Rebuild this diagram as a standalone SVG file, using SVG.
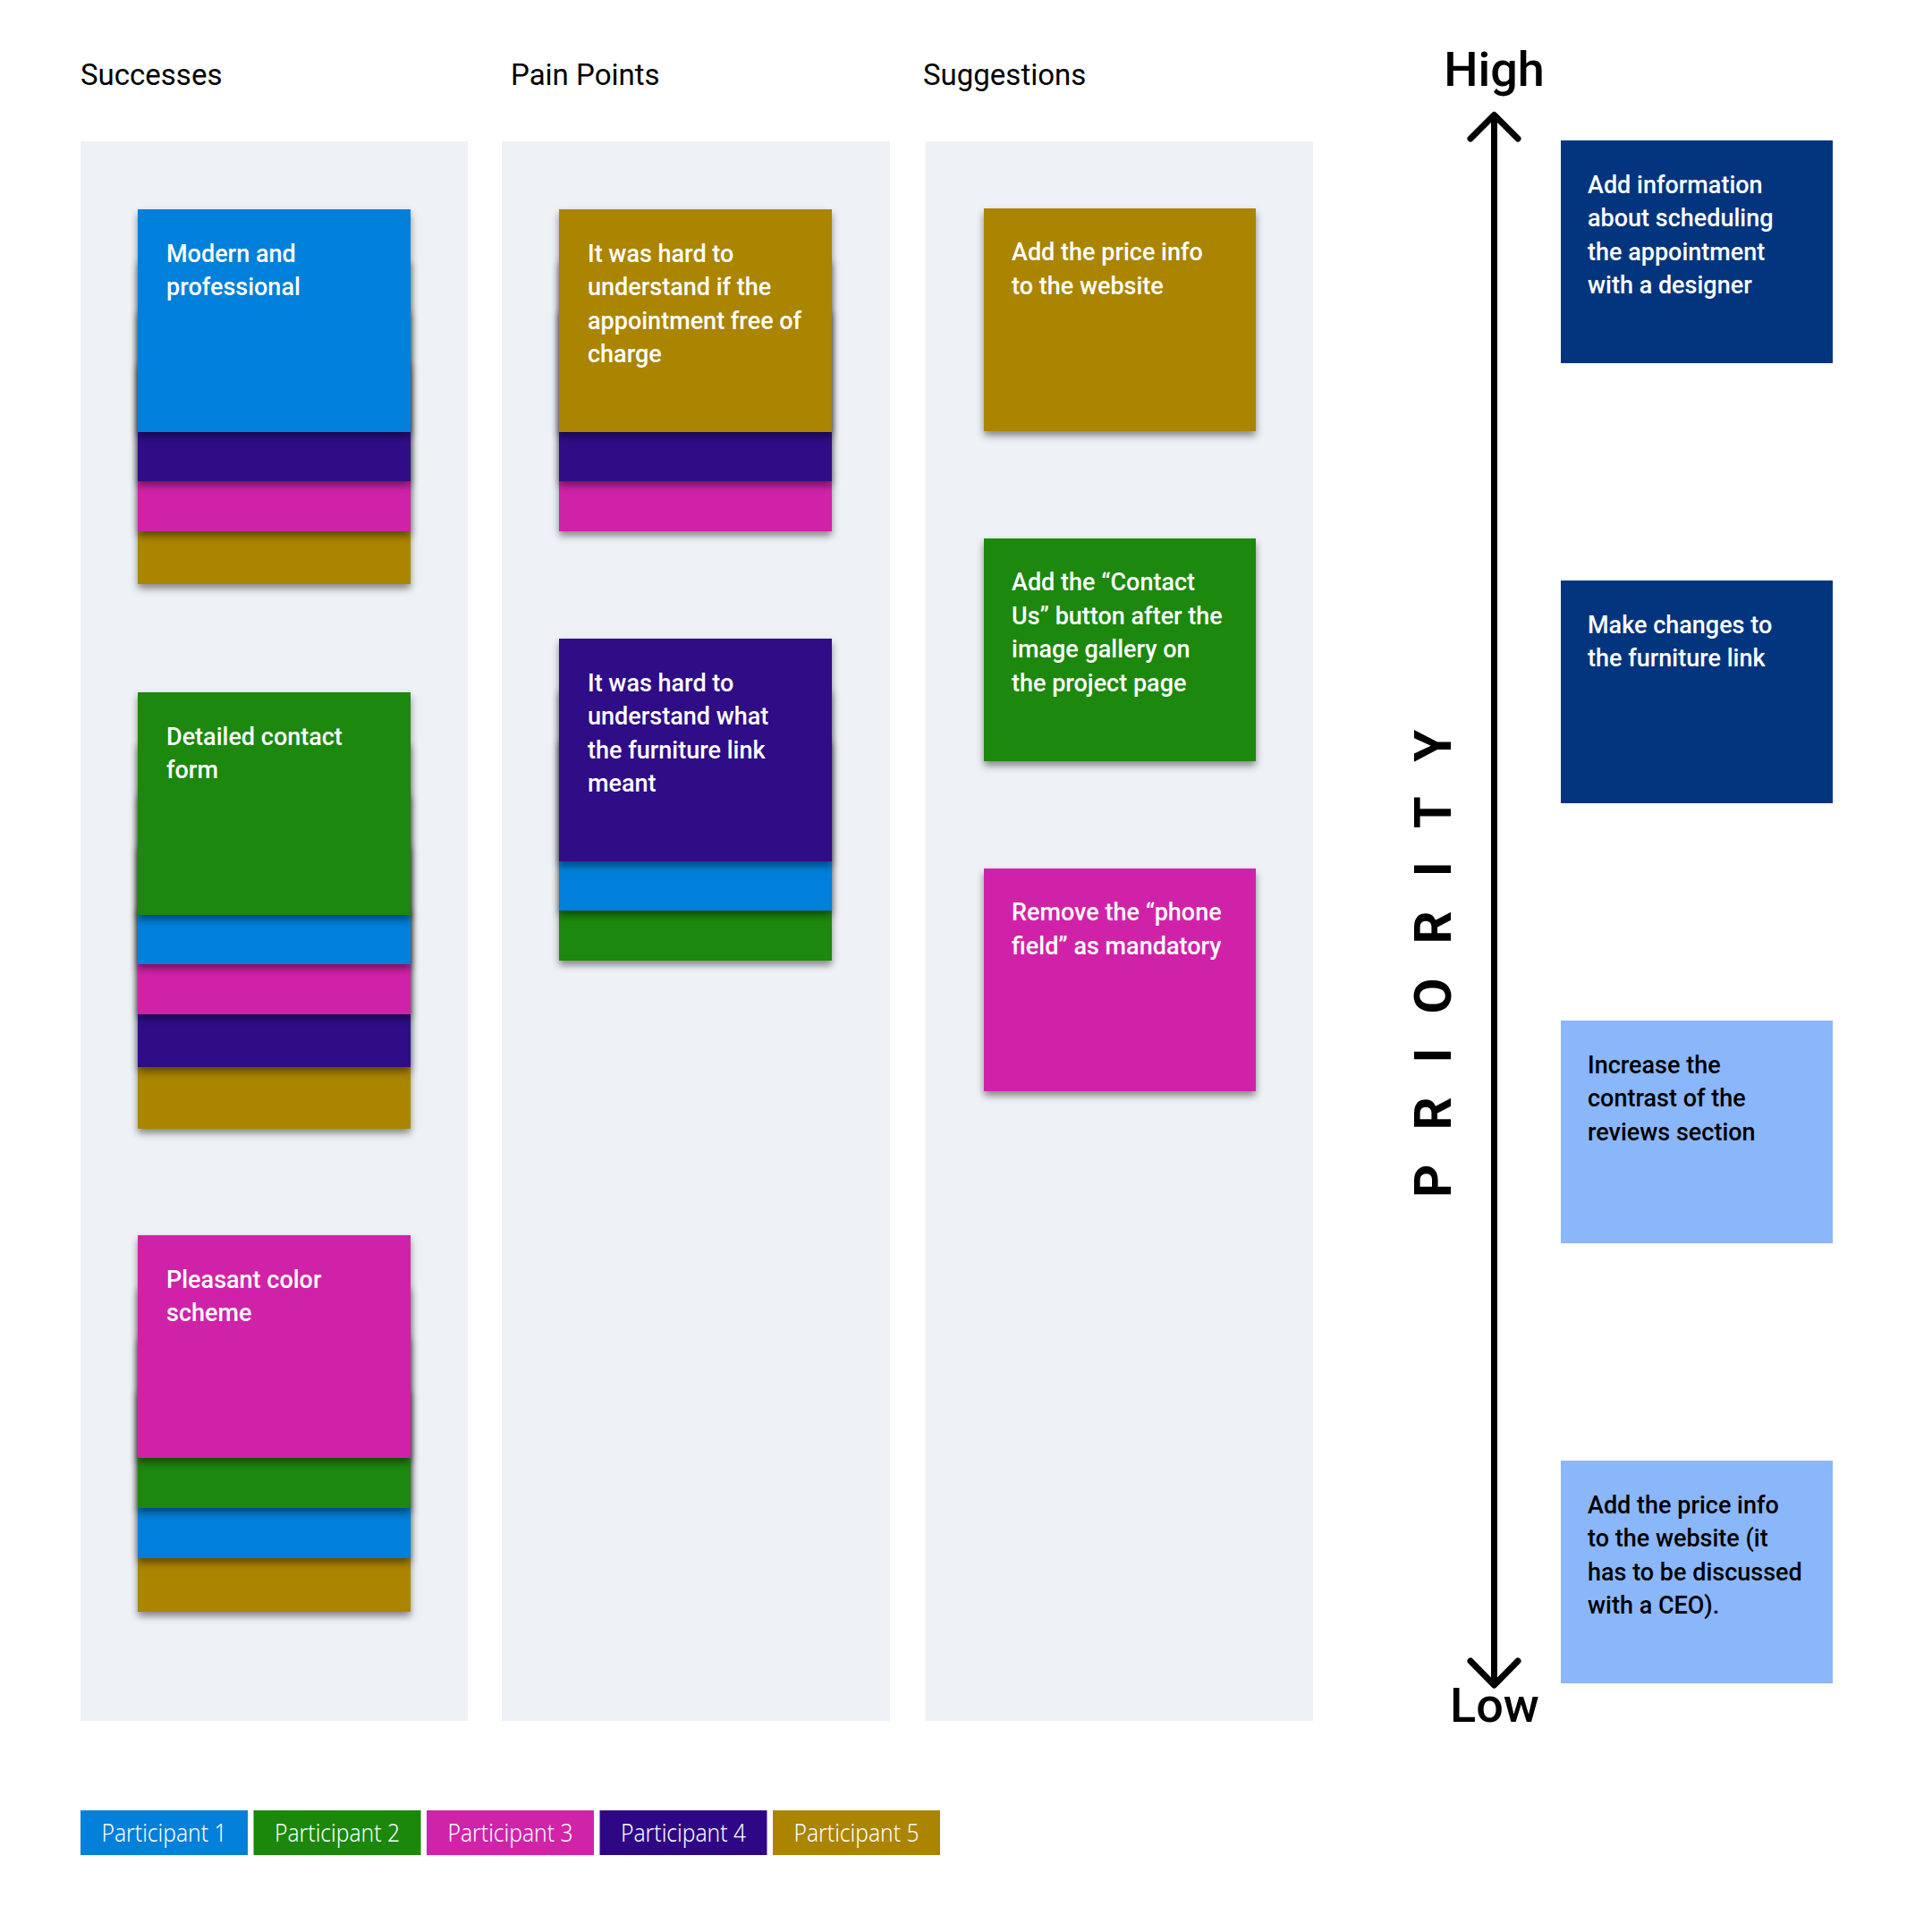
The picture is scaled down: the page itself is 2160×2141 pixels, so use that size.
<svg xmlns="http://www.w3.org/2000/svg" width="2160" height="2141" viewBox="0 0 2160 2141">
<defs>
<filter id="sh" x="-10%" y="-10%" width="120%" height="130%">
<feDropShadow dx="0" dy="5" stdDeviation="4" flood-color="#000" flood-opacity="0.45"/>
</filter>
<style>
.hdr{font-family:Roboto,"Liberation Sans",sans-serif;font-size:33px;fill:#000}
.col{fill:#EEF2F6}
.c{filter:url(#sh)}
.p1{fill:#0280DA}.p2{fill:#1B880B}.p3{fill:#D023A9}.p4{fill:#2E0787}.p5{fill:#AB8400}
.navy{fill:#03357F}.lb{fill:#8AB6FA}
.t{font-family:Roboto,"Liberation Sans",sans-serif;font-size:27px;font-weight:500;fill:#fff}
.tk{font-family:Roboto,"Liberation Sans",sans-serif;font-size:27px;font-weight:500;fill:#000}
.axis{fill:none;stroke:#000;stroke-width:7;stroke-linecap:round;stroke-linejoin:round}
.big{font-family:Roboto,"Liberation Sans",sans-serif;font-size:54px;font-weight:500;fill:#000;text-anchor:middle}
.lg{font-family:"Noto Sans","Open Sans",sans-serif;font-size:27px;font-weight:300;fill:#fff;text-anchor:middle}
</style>
</defs>
<rect width="2160" height="2141" fill="#fff"/>

<g id="headers">
<text class="hdr" x="90" y="95">Successes</text>
<text class="hdr" x="571" y="95">Pain Points</text>
<text class="hdr" x="1032" y="95">Suggestions</text>
</g>

<g id="columns">
<rect class="col" x="90" y="158" width="433" height="1766"/>
<rect class="col" x="561" y="158" width="434" height="1766"/>
<rect class="col" x="1035" y="158" width="433" height="1766"/>
</g>

<g id="success-1">
<rect class="c p5" x="154" y="404" width="305" height="249"/>
<rect class="c p3" x="154" y="345" width="305" height="249"/>
<rect class="c p4" x="154" y="289" width="305" height="249"/>
<rect class="c p1" x="154" y="234" width="305" height="249"/>
<text class="t" x="186" y="292.5">Modern and<tspan x="186" dy="37.6">professional</tspan></text>
</g>

<g id="success-2">
<rect class="c p5" x="154" y="1013" width="305" height="249"/>
<rect class="c p4" x="154" y="944" width="305" height="249"/>
<rect class="c p3" x="154" y="885" width="305" height="249"/>
<rect class="c p1" x="154" y="829" width="305" height="249"/>
<rect class="c p2" x="154" y="774" width="305" height="249"/>
<text class="t" x="186" y="832.5">Detailed contact<tspan x="186" dy="37.6">form</tspan></text>
</g>

<g id="success-3">
<rect class="c p5" x="154" y="1553" width="305" height="249"/>
<rect class="c p1" x="154" y="1493" width="305" height="249"/>
<rect class="c p2" x="154" y="1437" width="305" height="249"/>
<rect class="c p3" x="154" y="1381" width="305" height="249"/>
<text class="t" x="186" y="1439.5">Pleasant color<tspan x="186" dy="37.6">scheme</tspan></text>
</g>

<g id="pain-1">
<rect class="c p3" x="625" y="345" width="305" height="249"/>
<rect class="c p4" x="625" y="289" width="305" height="249"/>
<rect class="c p5" x="625" y="234" width="305" height="249"/>
<text class="t" x="657" y="292.5">It was hard to<tspan x="657" dy="37.6">understand if the</tspan><tspan x="657" dy="37.6">appointment free of</tspan><tspan x="657" dy="37.6">charge</tspan></text>
</g>

<g id="pain-2">
<rect class="c p2" x="625" y="825" width="305" height="249"/>
<rect class="c p1" x="625" y="769" width="305" height="249"/>
<rect class="c p4" x="625" y="714" width="305" height="249"/>
<text class="t" x="657" y="772.5">It was hard to<tspan x="657" dy="37.6">understand what</tspan><tspan x="657" dy="37.6">the furniture link</tspan><tspan x="657" dy="37.6">meant</tspan></text>
</g>

<g id="suggestion-1">
<rect class="c p5" x="1100" y="233" width="304" height="249"/>
<text class="t" x="1131" y="291">Add the price info<tspan x="1131" dy="37.6">to the website</tspan></text>
</g>

<g id="suggestion-2">
<rect class="c p2" x="1100" y="602" width="304" height="249"/>
<text class="t" x="1131" y="660">Add the “Contact<tspan x="1131" dy="37.6">Us” button after the</tspan><tspan x="1131" dy="37.6">image gallery on</tspan><tspan x="1131" dy="37.6">the project page</tspan></text>
</g>

<g id="suggestion-3">
<rect class="c p3" x="1100" y="971" width="304" height="249"/>
<text class="t" x="1131" y="1029">Remove the “phone<tspan x="1131" dy="37.6">field” as mandatory</tspan></text>
</g>

<g id="connectors">
<line class="axis" x1="1670.5" y1="132" x2="1670.5" y2="1881"/>
<polyline class="axis" points="1644,155 1670.5,128.5 1697,155"/>
<polyline class="axis" points="1644,1857 1670.5,1884 1697,1857"/>
</g>

<g id="axis-labels">
<text class="big" x="1670.5" y="96">High</text>
<text class="big" x="1671" y="1925">Low</text>
<text transform="translate(1622,1339) rotate(-90)" x="0" y="0" font-family="Roboto,'Liberation Sans',sans-serif" font-size="58" font-weight="700" letter-spacing="38" fill="#000">PRIORITY</text>
</g>

<g id="priority-1">
<rect class="navy" x="1745" y="157" width="304" height="249"/>
<text class="t" x="1775" y="215.5">Add information<tspan x="1775" dy="37.6">about scheduling</tspan><tspan x="1775" dy="37.6">the appointment</tspan><tspan x="1775" dy="37.6">with a designer</tspan></text>
</g>

<g id="priority-2">
<rect class="navy" x="1745" y="649" width="304" height="249"/>
<text class="t" x="1775" y="707.5">Make changes to<tspan x="1775" dy="37.6">the furniture link</tspan></text>
</g>

<g id="priority-3">
<rect class="lb" x="1745" y="1141" width="304" height="249"/>
<text class="tk" x="1775" y="1199.5">Increase the<tspan x="1775" dy="37.6">contrast of the</tspan><tspan x="1775" dy="37.6">reviews section</tspan></text>
</g>

<g id="priority-4">
<rect class="lb" x="1745" y="1633" width="304" height="249"/>
<text class="tk" x="1775" y="1691.5" font-weight="400">Add the price info<tspan x="1775" dy="37.6">to the website (it</tspan><tspan x="1775" dy="37.6">has to be discussed</tspan><tspan x="1775" dy="37.6">with a CEO).</tspan></text>
</g>

<g id="legend">
<rect class="p1" x="90" y="2024" width="187" height="50"/>
<text class="lg" x="183.5" y="2059" textLength="140" lengthAdjust="spacingAndGlyphs">Participant 1</text>
<rect class="p2" x="283.5" y="2024" width="187" height="50"/>
<text class="lg" x="377" y="2059" textLength="140" lengthAdjust="spacingAndGlyphs">Participant 2</text>
<rect class="p3" x="477" y="2024" width="187" height="50"/>
<text class="lg" x="570.5" y="2059" textLength="140" lengthAdjust="spacingAndGlyphs">Participant 3</text>
<rect class="p4" x="670.5" y="2024" width="187" height="50"/>
<text class="lg" x="764" y="2059" textLength="140" lengthAdjust="spacingAndGlyphs">Participant 4</text>
<rect class="p5" x="864" y="2024" width="187" height="50"/>
<text class="lg" x="957.5" y="2059" textLength="140" lengthAdjust="spacingAndGlyphs">Participant 5</text>
</g>
</svg>
